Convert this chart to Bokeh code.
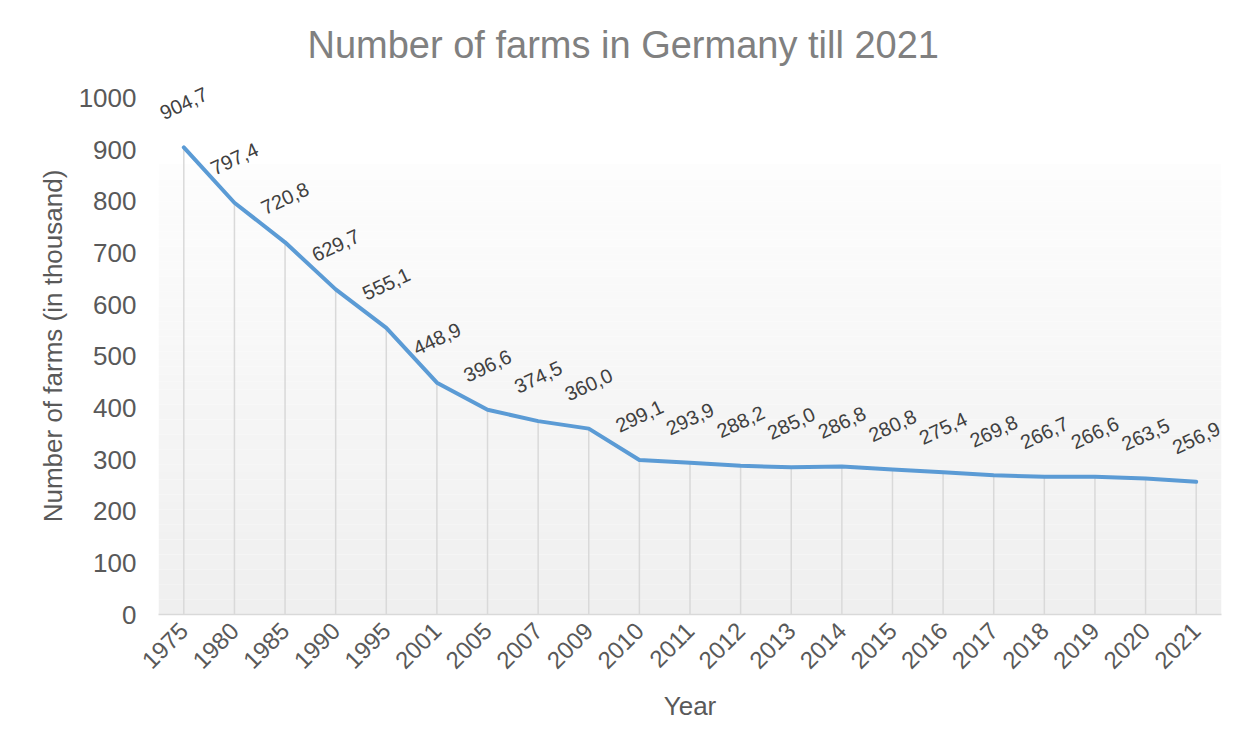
import numpy as np
from math import pi
from bokeh.plotting import figure
from bokeh.models import ColumnDataSource, FactorRange, Range1d, FixedTicker, BoxAnnotation
from bokeh.embed import file_html
from bokeh.resources import INLINE
from bokeh.core.properties import value

years = ["1975", "1980", "1985", "1990", "1995", "2001", "2005", "2007", "2009", "2010",
         "2011", "2012", "2013", "2014", "2015", "2016", "2017", "2018", "2019", "2020", "2021"]
farms = [904.7, 797.4, 720.8, 629.7, 555.1, 448.9, 396.6, 374.5, 360.0, 299.1,
         293.9, 288.2, 285.0, 286.8, 280.8, 275.4, 269.8, 266.7, 266.6, 263.5, 256.9]
labels = [f"{v:.1f}".replace(".", ",") for v in farms]
y_ticks = list(range(0, 1001, 100))

title_text = "Number of farms in Germany till 2021"
x_title = "Year"
y_title = "Number of farms (in thousand)"

FONT = "Liberation Sans"

src = ColumnDataSource(dict(year=years, farms=farms, label=labels))

p = figure(width=1232, height=737, x_range=FactorRange(*years, range_padding=0),
           y_range=Range1d(0, 1040), output_backend="svg", toolbar_location=None,
           min_border_left=158, min_border_right=11, min_border_top=77, min_border_bottom=123)
p.outline_line_color = None
p.xgrid.grid_line_color = None
p.ygrid.grid_line_color = None
p.background_fill_color = "white"
p.border_fill_color = "white"

p.title.text = title_text
p.title.align = "left"
p.title.offset = 149
p.title.vertical_align = "middle"
p.title.standoff = 21
p.title.text_font = FONT
p.title.text_font_size = "38px"
p.title.text_font_style = "normal"
p.title.text_color = "#808080"

# subtle vertical gradient of the plot area (decorative)
g_top = 872.0
n = 60
edges = np.linspace(0, g_top, n + 1)
for i in range(n):
    t = (edges[i] + edges[i + 1]) / 2 / g_top  # 0 bottom -> 1 top
    c = int(round(239 + (253 - 239) * t))
    col = "#%02x%02x%02x" % (c, c, c)
    p.add_layout(BoxAnnotation(bottom=edges[i], top=edges[i + 1], fill_color=col, fill_alpha=1.0,
                               line_color=None, level="underlay"))

p.segment(x0="year", y0=0, x1="year", y1="farms", source=src, line_color="#d9d9d9", line_width=1.5)
p.line(x="year", y="farms", source=src, line_color="#5b9bd5", line_width=4,
       line_join="round", line_cap="round")
p.text(x="year", y="farms", text="label", source=src, angle=25 * pi / 180, y_offset=-44,
       text_align="center", text_baseline="middle", text_font=value(FONT),
       text_font_size="20px", text_color="#404040")

xa = p.xaxis[0]
xa.axis_line_color = "#d9d9d9"
xa.axis_line_width = 1.5
xa.major_tick_line_color = None
xa.major_tick_out = 0
xa.major_tick_in = 0
xa.minor_tick_line_color = None
xa.major_label_orientation = pi / 4
xa.major_label_text_font = FONT
xa.major_label_text_font_size = "24px"
xa.major_label_text_color = "#595959"
xa.major_label_standoff = 12
xa.axis_label = x_title
xa.axis_label_text_font = FONT
xa.axis_label_text_font_size = "26px"
xa.axis_label_text_font_style = "normal"
xa.axis_label_text_color = "#595959"
xa.axis_label_standoff = 12

ya = p.yaxis[0]
ya.ticker = FixedTicker(ticks=y_ticks)
ya.axis_line_color = None
ya.major_tick_line_color = None
ya.minor_tick_line_color = None
ya.major_tick_out = 0
ya.major_tick_in = 0
ya.major_label_text_font = FONT
ya.major_label_text_font_size = "26px"
ya.major_label_text_color = "#595959"
ya.major_label_standoff = 22
ya.axis_label = y_title
ya.axis_label_text_font = FONT
ya.axis_label_text_font_size = "26px"
ya.axis_label_text_font_style = "normal"
ya.axis_label_text_color = "#595959"
ya.axis_label_standoff = 8

open("out.html", "w").write(file_html(p, INLINE))
